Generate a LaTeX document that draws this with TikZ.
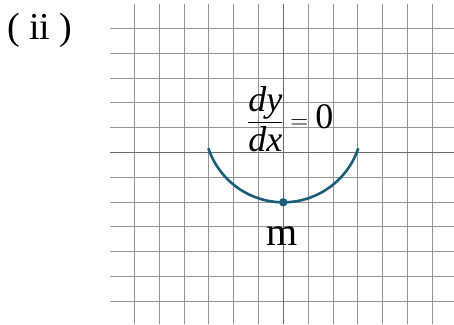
\documentclass[tikz,border=0pt]{standalone}
\usepackage{amsmath}
\usepackage{fontspec}
\setmainfont{Liberation Serif}
\usepackage{tikz}
\usetikzlibrary{positioning}
\definecolor{curveteal}{RGB}{27,94,122}

\begin{document}
\begin{tikzpicture}[
  x=1pt, y=-1pt,
  gridline/.style={draw=black!42, line width=0.8pt},
  axisline/.style={draw=black!58, line width=0.9pt},
  curve/.style={draw=curveteal, line width=2.6pt},
  point/.style={circle, fill=curveteal, inner sep=0pt, minimum size=8.5pt},
  label/.style={font=\fontsize{40}{44}\selectfont, inner sep=0pt},
]
\useasboundingbox (0,0) rectangle (454,324);

%% Grid
\foreach \k in {0,...,12}
  \draw[gridline] ({134.3+24.83*\k},4) -- ({134.3+24.83*\k},324);
\foreach \k in {0,...,11}
  \draw[gridline] (110,{28.3+24.82*\k}) -- (454,{28.3+24.82*\k});
\draw[axisline] (283.3,4) -- (283.3,324);
\draw[axisline] (110,152.4) -- (454,152.4);

%% Part label
\node[anchor=base west, inner sep=0pt, font=\fontsize{38}{42}\selectfont]
  (part) at (7,39) {( ii )};

%% Curve and its minimum
\draw[curve] plot[domain=198.4:341.6, samples=60]
  ({283.3+79*cos(\x)}, {123.3-79*sin(\x)});
\node[point] (min) at (283.3,202.3) {};
\node[label, anchor=base] (mlab) at (282,245) {m};

%% Slope
\node[anchor=west, inner sep=0pt, font=\fontsize{36}{40}\selectfont]
  (slope) at (247,119) {$\displaystyle\frac{\textit{dy}}{\textit{dx}}=\textrm{0}$};

\end{tikzpicture}
\end{document}
